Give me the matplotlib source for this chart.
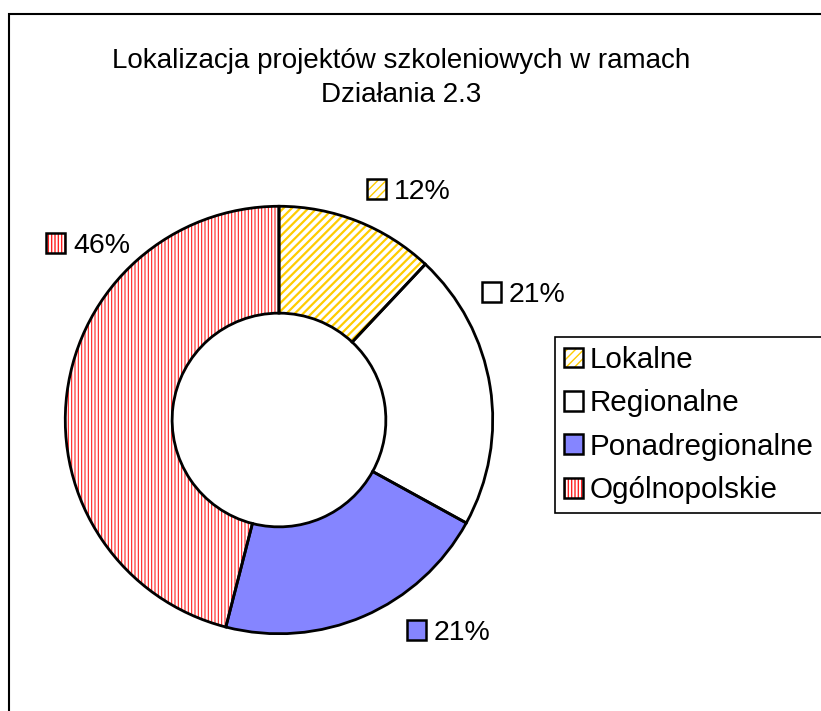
import matplotlib
matplotlib.use("Agg")
import matplotlib.pyplot as plt
from matplotlib.patches import Rectangle

plt.rcParams["font.family"] = ["Liberation Sans", "DejaVu Sans"]

title = "Lokalizacja projektów szkoleniowych w ramach\nDziałania 2.3"
categories = ["Lokalne", "Regionalne", "Ponadregionalne", "Ogólnopolskie"]
shares = [12, 21, 21, 46]
pct_labels = ["12%", "21%", "21%", "46%"]

# fill styles per slice: face, hatch, hatch colour
faces = ["white", "white", "#8585ff", "white"]
hatches = ["////", None, None, "|||||"]
hatch_cols = ["#ffcc00", "white", "#8585ff", "#ff2020"]
hatch_lws = [1.6, 1.0, 1.0, 0.8]

W, H = 821, 711
fig = plt.figure(figsize=(W / 100, H / 100), dpi=100)

# outer chart border (runs off the bottom/right like the original)
fig.patches.append(Rectangle((9 / W, -0.1), 1.2, 1.1 - 14 / H,
                             transform=fig.transFigure, fill=False,
                             edgecolor="black", lw=1.5))

fig.text(401 / W, 1 - 78 / H, title, ha="center", va="center",
         fontsize=20, linespacing=1.4)

cx, cy, r = 279, 420, 218
ax = fig.add_axes([(cx - r) / W, (H - cy - r) / H, 2 * r / W, 2 * r / H])

wedges, _ = ax.pie(shares, startangle=90, counterclock=False, radius=1,
                   colors=faces, wedgeprops=dict(width=0.5, lw=0))
for w, h, hc, hl in zip(wedges, hatches, hatch_cols, hatch_lws):
    w.set_edgecolor(hc)
    w.set_linewidth(0)
    if h:
        w.set_hatch(h)
        if hasattr(w, "set_hatch_linewidth"):
            w.set_hatch_linewidth(hl)
outline, _ = ax.pie(shares, startangle=90, counterclock=False, radius=1,
                    colors=["none"] * 4,
                    wedgeprops=dict(width=0.5, edgecolor="black", lw=2, fill=False))
ax.set_xlim(-1.02, 1.02)
ax.set_ylim(-1.02, 1.02)


def make_handle(i):
    hp = Rectangle((0, 0), 1, 1, facecolor=faces[i], edgecolor=hatch_cols[i],
                   lw=0, hatch=hatches[i])
    if hatches[i] and hasattr(hp, "set_hatch_linewidth"):
        hp.set_hatch_linewidth(hatch_lws[i])
    op = Rectangle((0, 0), 1, 1, fill=False, edgecolor="black", lw=1.8)
    return (hp, op)


handles = [make_handle(i) for i in range(len(categories))]

# percentage labels with small swatches
label_pos = [(367, 192), (482, 295), (407, 633), (46, 246)]
for i, (px, py) in enumerate(label_pos):
    fig.legend([handles[i]], [pct_labels[i]], loc="center left",
               bbox_to_anchor=(px / W, 1 - py / H), frameon=False,
               fontsize=20.5, handlelength=0.65, handleheight=0.65,
               handletextpad=0.3, borderpad=0, borderaxespad=0)

leg = fig.legend(handles, categories, loc="upper left",
                 bbox_to_anchor=(555 / W, 1 - 337 / H), fontsize=21.3,
                 handlelength=0.66, handleheight=0.66, handletextpad=0.22,
                 labelspacing=0.52, borderpad=0.3, borderaxespad=0,
                 fancybox=False, framealpha=1)
leg.get_frame().set_edgecolor("black")
leg.get_frame().set_linewidth(1.2)

fig.savefig("out.png", dpi=100)
